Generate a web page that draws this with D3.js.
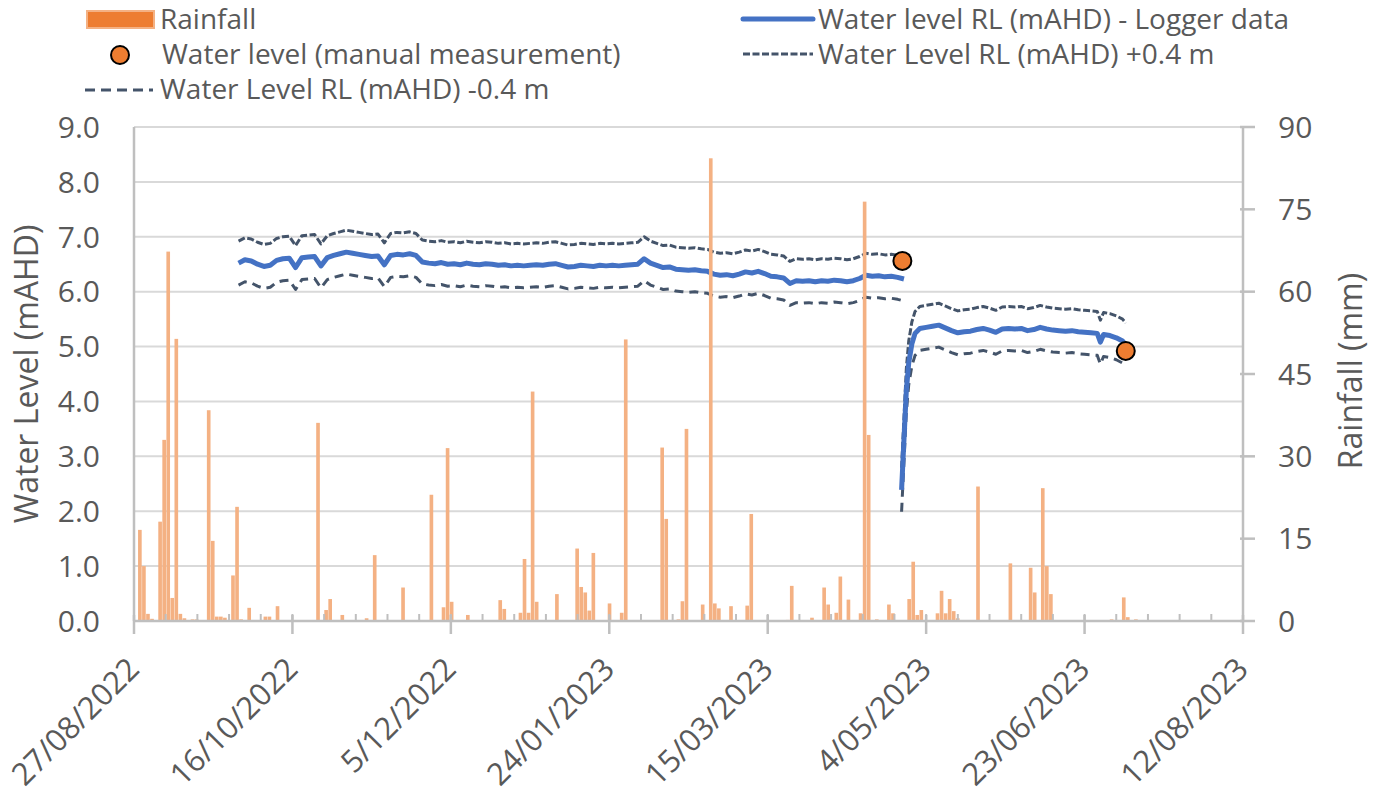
<!DOCTYPE html>
<html>
<head>
<meta charset="utf-8">
<script src="https://cdn.jsdelivr.net/npm/d3@7"></script>
<style>
    body { margin: 0; background: #fff; }
    svg text { font-family: "Open Sans", sans-serif; fill: #595959; }
</style>
</head>
<body>
<div id="chart"></div>

<script>

    var parseDay = d3.timeParse("%Y-%m-%d");
    var parseTime = d3.timeParse("%Y-%m-%dT%H:%M");
    function parse(s) { return s.length > 10 ? parseTime(s) : parseDay(s); }

    // x axis (date) range and tick labels
    var axisStart = "2022-08-27";
    var axisEnd = "2023-08-12";
    var majorStepDays = 50;
    var minorStepDays = 10;

    // logger record, first installation: one value every 2 days from 29/09/2022
    var loggerStart1 = "2022-09-29";
    var loggerStep1 = 2;
    var loggerLevel1 = [
        6.52, 6.58, 6.56, 6.50, 6.46, 6.48, 6.57, 6.60, 6.61, 6.44,
        6.62, 6.63, 6.64, 6.47, 6.62, 6.66, 6.69, 6.72, 6.70, 6.68,
        6.66, 6.64, 6.65, 6.49, 6.66, 6.68, 6.67, 6.69, 6.66, 6.54,
        6.52, 6.51, 6.53, 6.50, 6.51, 6.49, 6.52, 6.50, 6.49, 6.51,
        6.50, 6.48, 6.49, 6.47, 6.48, 6.47, 6.48, 6.49, 6.48, 6.50,
        6.51, 6.48, 6.45, 6.46, 6.48, 6.47, 6.46, 6.48, 6.47, 6.48,
        6.47, 6.48, 6.49, 6.50, 6.60, 6.52, 6.48, 6.44, 6.45, 6.41,
        6.40, 6.39, 6.40, 6.38, 6.37, 6.32, 6.30, 6.31, 6.29, 6.32,
        6.36, 6.34, 6.37, 6.33, 6.28, 6.27, 6.25, 6.15, 6.20, 6.19,
        6.20, 6.18, 6.20, 6.19, 6.21, 6.20, 6.18, 6.20, 6.24, 6.30,
        6.28, 6.29, 6.27, 6.28, 6.26, 6.23
    ];

    // logger record after reinstallation (recovery then steady)
    var loggerDates2 = [
        "2023-04-26T06:00", "2023-04-26T18:00", "2023-04-27T06:00", "2023-04-27T18:00",
        "2023-04-28T12:00", "2023-04-29T12:00", "2023-04-30T12:00", "2023-05-02",
        "2023-05-04", "2023-05-06", "2023-05-08", "2023-05-10", "2023-05-12",
        "2023-05-14", "2023-05-16", "2023-05-18", "2023-05-20", "2023-05-22",
        "2023-05-24", "2023-05-26", "2023-05-28", "2023-05-30", "2023-06-01",
        "2023-06-03", "2023-06-05", "2023-06-07", "2023-06-09", "2023-06-11",
        "2023-06-13", "2023-06-15", "2023-06-17", "2023-06-19", "2023-06-21",
        "2023-06-23", "2023-06-25", "2023-06-27", "2023-06-28", "2023-06-29",
        "2023-07-01", "2023-07-03", "2023-07-05", "2023-07-06"
    ];
    var loggerLevel2 = [
        2.39, 3.00, 3.60, 4.20,
        4.70, 5.05, 5.24, 5.33,
        5.35, 5.37, 5.39, 5.34, 5.29,
        5.25, 5.27, 5.28, 5.31, 5.33,
        5.30, 5.26, 5.32, 5.33, 5.32,
        5.33, 5.29, 5.31, 5.35, 5.32,
        5.30, 5.29, 5.28, 5.29, 5.27,
        5.26, 5.25, 5.24, 5.08, 5.22,
        5.20, 5.16, 5.10, 5.03
    ];

    var bandOffset = 0.4; // +/- 0.4 m lines

    var manualDates = ["2023-04-26T12:00", "2023-07-06"];
    var manualLevel = [6.56, 4.92];

    // rainfall: plotted against its own daily category axis (274 days from 27/08/2022)
    var rainAxisStart = "2022-08-27";
    var rainAxisDays = 274;
    var rainDates = [
        "2022-08-28", "2022-08-29", "2022-08-30", "2022-08-31", "2022-09-02", "2022-09-03",
        "2022-09-04", "2022-09-05", "2022-09-06", "2022-09-07", "2022-09-08", "2022-09-10",
        "2022-09-11", "2022-09-14", "2022-09-15", "2022-09-16", "2022-09-17", "2022-09-18",
        "2022-09-20", "2022-09-21", "2022-09-22", "2022-09-24", "2022-09-28", "2022-09-29",
        "2022-10-01", "2022-10-11", "2022-10-13", "2022-10-14", "2022-10-17", "2022-10-23",
        "2022-10-25", "2022-11-01", "2022-11-08", "2022-11-11", "2022-11-12", "2022-11-13",
        "2022-11-17", "2022-11-25", "2022-11-26", "2022-11-30", "2022-12-01", "2022-12-02",
        "2022-12-03", "2022-12-04", "2022-12-09", "2022-12-14", "2022-12-15", "2022-12-16",
        "2022-12-17", "2022-12-18", "2022-12-22", "2022-12-25", "2022-12-26", "2023-01-04",
        "2023-01-05", "2023-01-08", "2023-01-09", "2023-01-10", "2023-01-14", "2023-01-16",
        "2023-01-17", "2023-01-18", "2023-01-21", "2023-01-25", "2023-01-26", "2023-02-04",
        "2023-02-05", "2023-02-10", "2023-02-13", "2023-02-14", "2023-02-16", "2023-02-17",
        "2023-02-19", "2023-02-22", "2023-02-23", "2023-02-24", "2023-02-26", "2023-03-01",
        "2023-03-02", "2023-03-06", "2023-03-07", "2023-03-08", "2023-03-09", "2023-03-13",
        "2023-03-14", "2023-03-15", "2023-03-16", "2023-03-17", "2023-03-18", "2023-03-23",
        "2023-03-31", "2023-04-05", "2023-04-06", "2023-04-08", "2023-04-09", "2023-04-10",
        "2023-04-25", "2023-04-28", "2023-04-29", "2023-05-01"
    ];
    var rainMm = [
        16.6, 10.0, 1.3, 0.4, 18.1, 33.0,
        67.3, 4.2, 51.4, 1.3, 0.5, 0.3,
        0.3, 38.4, 14.6, 0.8, 0.8, 0.6,
        8.3, 20.8, 0.3, 2.4, 0.8, 0.8,
        2.7, 36.1, 2.0, 4.0, 1.1, 0.5,
        12.0, 6.1, 23.0, 2.5, 31.5, 3.5,
        1.1, 3.8, 2.2, 1.5, 11.3, 1.5,
        41.8, 3.5, 4.9, 13.2, 6.2, 5.2,
        1.9, 12.4, 3.2, 1.5, 51.3, 31.6,
        18.6, 0.3, 3.6, 35.0, 3.0, 84.3,
        3.2, 2.3, 2.7, 2.8, 19.5, 0.2,
        6.4, 0.6, 6.1, 3.0, 1.5, 8.1,
        3.9, 1.4, 76.4, 33.9, 0.3, 3.0,
        1.4, 4.0, 10.8, 1.1, 2.0, 1.4,
        5.5, 1.4, 4.0, 1.8, 0.5, 24.5,
        10.5, 9.7, 5.2, 24.2, 10.0, 4.9,
        0.3, 4.3, 0.7, 0.3
    ];

    var levelTicks = [0, 1, 2, 3, 4, 5, 6, 7, 8, 9];
    var rainTicks = [0, 15, 30, 45, 60, 75, 90];

    var legendLabels = {
        rain: "Rainfall",
        manual: "Water level (manual measurement)",
        lower: "Water Level RL (mAHD) -0.4 m",
        logger: "Water level RL (mAHD) - Logger data",
        upper: "Water Level RL (mAHD) +0.4 m"
    };

    // ---- layout
    var totalWidth = 1380, totalHeight = 799;
    var padding = { left: 134, top: 127 };
    var width = 1109, height = 494;

    var blue = '#4472C4', slate = '#44546A', orange = '#ED7D31', rainColor = '#F4B183';
    var axisColor = '#BFBFBF', gridColor = '#D9D9D9';

    var x = d3.scaleTime()
        .domain([parse(axisStart), parse(axisEnd)])
        .range([0, width]);
    var yLevel = d3.scaleLinear().domain([0, 9]).range([height, 0]);
    var yRain = d3.scaleLinear().domain([0, 90]).range([height, 0]);

    var rainDays = d3.range(rainAxisDays).map(function(i) { return +d3.timeDay.offset(parse(rainAxisStart), i); });
    var xRain = d3.scaleBand().domain(rainDays).range([0, width]).paddingInner(0.1);

    var seg1 = loggerLevel1.map(function(v, i) {
        return { date: d3.timeDay.offset(parse(loggerStart1), i * loggerStep1), value: v };
    });
    var seg2 = loggerLevel2.map(function(v, i) { return { date: parse(loggerDates2[i]), value: v }; });
    var segments = [seg1, seg2];

    var svg = d3.select('#chart').append('svg')
        .attr('width', totalWidth)
        .attr('height', totalHeight);

    var g = svg.append('g')
        .attr('transform', 'translate(' + padding.left + ', ' + padding.top + ')');

    // gridlines
    g.selectAll('.grid')
        .data(levelTicks.slice(1))
        .enter().append('line')
        .attr('x1', 0).attr('x2', width)
        .attr('y1', function(d) { return yLevel(d); })
        .attr('y2', function(d) { return yLevel(d); })
        .attr('stroke', gridColor)
        .attr('stroke-width', 2);

    // level lines
    function levelLine(offset) {
        return d3.line()
            .x(function(d) { return x(d.date); })
            .y(function(d) { return yLevel(d.value + offset); });
    }

    var lineStyles = [
        { offset: bandOffset, color: slate, width: 3, dash: '7,2.5' },
        { offset: -bandOffset, color: slate, width: 3, dash: '9,6' },
        { offset: 0, color: blue, width: 5, dash: null }
    ];

    lineStyles.forEach(function(s) {
        segments.forEach(function(seg) {
            g.append('path')
                .datum(seg)
                .attr('d', levelLine(s.offset))
                .attr('fill', 'none')
                .attr('stroke', s.color)
                .attr('stroke-width', s.width)
                .attr('stroke-linejoin', 'round')
                .attr('stroke-dasharray', s.dash);
        });
    });

    // rainfall bars (secondary axis, drawn above the lines)
    g.selectAll('.rain')
        .data(rainMm)
        .enter().append('rect')
        .attr('x', function(d, i) { return xRain(+parse(rainDates[i])); })
        .attr('width', xRain.bandwidth())
        .attr('y', function(d) { return yRain(d); })
        .attr('height', function(d) { return height - yRain(d); })
        .attr('fill', rainColor);

    // manual measurements
    g.selectAll('.manual')
        .data(manualLevel)
        .enter().append('circle')
        .attr('cx', function(d, i) { return x(parse(manualDates[i])); })
        .attr('cy', function(d) { return yLevel(d); })
        .attr('r', 9)
        .attr('fill', orange)
        .attr('stroke', '#000')
        .attr('stroke-width', 2);

    // axes lines
    g.append('line').attr('x1', 0).attr('x2', 0).attr('y1', 0).attr('y2', height)
        .attr('stroke', axisColor).attr('stroke-width', 2.5);
    g.append('line').attr('x1', width).attr('x2', width).attr('y1', 0).attr('y2', height)
        .attr('stroke', axisColor).attr('stroke-width', 2.5);
    g.append('line').attr('x1', 0).attr('x2', width).attr('y1', height).attr('y2', height)
        .attr('stroke', axisColor).attr('stroke-width', 2.5);

    // x ticks
    var start = parse(axisStart);
    var minorDates = d3.range(0, 351, minorStepDays).map(function(d) { return d3.timeDay.offset(start, d); });
    var majorDates = d3.range(0, 351, majorStepDays).map(function(d) { return d3.timeDay.offset(start, d); });

    g.selectAll('.minor')
        .data(minorDates)
        .enter().append('line')
        .attr('x1', function(d) { return x(d); })
        .attr('x2', function(d) { return x(d); })
        .attr('y1', height - 7).attr('y2', height)
        .attr('stroke', axisColor).attr('stroke-width', 2);

    g.selectAll('.major')
        .data(majorDates)
        .enter().append('line')
        .attr('x1', function(d) { return x(d); })
        .attr('x2', function(d) { return x(d); })
        .attr('y1', height - 6).attr('y2', height + 13)
        .attr('stroke', axisColor).attr('stroke-width', 2.5);

    var fmt = d3.timeFormat('%-d/%m/%Y');
    g.selectAll('.xlabel')
        .data(majorDates)
        .enter().append('text')
        .attr('transform', function(d) { return 'translate(' + (x(d) + 7) + ',' + (height + 50) + ') rotate(-45)'; })
        .attr('text-anchor', 'end')
        .style('font-size', '31px')
        .text(function(d) { return fmt(d); });

    // left labels
    g.selectAll('.ylabel')
        .data(levelTicks)
        .enter().append('text')
        .attr('x', -34)
        .attr('y', function(d) { return yLevel(d); })
        .attr('dy', '0.36em')
        .attr('text-anchor', 'end')
        .style('font-size', '30px')
        .text(function(d) { return d3.format('.1f')(d); });

    // right ticks and labels
    g.selectAll('.rtick')
        .data(rainTicks)
        .enter().append('line')
        .attr('x1', width - 3).attr('x2', width + 12)
        .attr('y1', function(d) { return yRain(d); })
        .attr('y2', function(d) { return yRain(d); })
        .attr('stroke', axisColor).attr('stroke-width', 2.5);

    g.selectAll('.rlabel')
        .data(rainTicks)
        .enter().append('text')
        .attr('x', width + 35)
        .attr('y', function(d) { return yRain(d); })
        .attr('dy', '0.36em')
        .style('font-size', '30px')
        .text(function(d) { return d; });

    // axis titles
    svg.append('text')
        .attr('transform', 'translate(27, 374) rotate(-90)')
        .attr('dy', '0.35em')
        .attr('text-anchor', 'middle')
        .style('font-size', '32px')
        .text('Water Level (mAHD)');

    svg.append('text')
        .attr('transform', 'translate(1351, 371) rotate(-90)')
        .attr('dy', '0.35em')
        .attr('text-anchor', 'middle')
        .style('font-size', '32px')
        .text('Rainfall (mm)');

    // legend
    var legend = svg.append('g');

    legend.append('rect')
        .attr('x', 87).attr('y', 11).attr('width', 67).attr('height', 17)
        .attr('fill', orange).attr('stroke', rainColor).attr('stroke-width', 2);
    legend.append('circle')
        .attr('cx', 120).attr('cy', 55).attr('r', 9)
        .attr('fill', orange).attr('stroke', '#000').attr('stroke-width', 2);
    legend.append('line')
        .attr('x1', 85).attr('x2', 153).attr('y1', 90).attr('y2', 90)
        .attr('stroke', slate).attr('stroke-width', 3).attr('stroke-dasharray', '10,6');
    legend.append('line')
        .attr('x1', 743).attr('x2', 813).attr('y1', 19).attr('y2', 19)
        .attr('stroke', blue).attr('stroke-width', 5).attr('stroke-linecap', 'round');
    legend.append('line')
        .attr('x1', 743).attr('x2', 813).attr('y1', 54).attr('y2', 54)
        .attr('stroke', slate).attr('stroke-width', 3).attr('stroke-dasharray', '7,2.5');

    var legendText = [
        { x: 160, y: 19, t: legendLabels.rain },
        { x: 162, y: 54, t: legendLabels.manual },
        { x: 160, y: 89, t: legendLabels.lower },
        { x: 818, y: 19, t: legendLabels.logger },
        { x: 818, y: 54, t: legendLabels.upper }
    ];
    legend.selectAll('.ltext')
        .data(legendText)
        .enter().append('text')
        .attr('x', function(d) { return d.x; })
        .attr('y', function(d) { return d.y; })
        .attr('dy', '0.36em')
        .style('font-size', '28px')
        .text(function(d) { return d.t; });

</script>
</body>
</html>
